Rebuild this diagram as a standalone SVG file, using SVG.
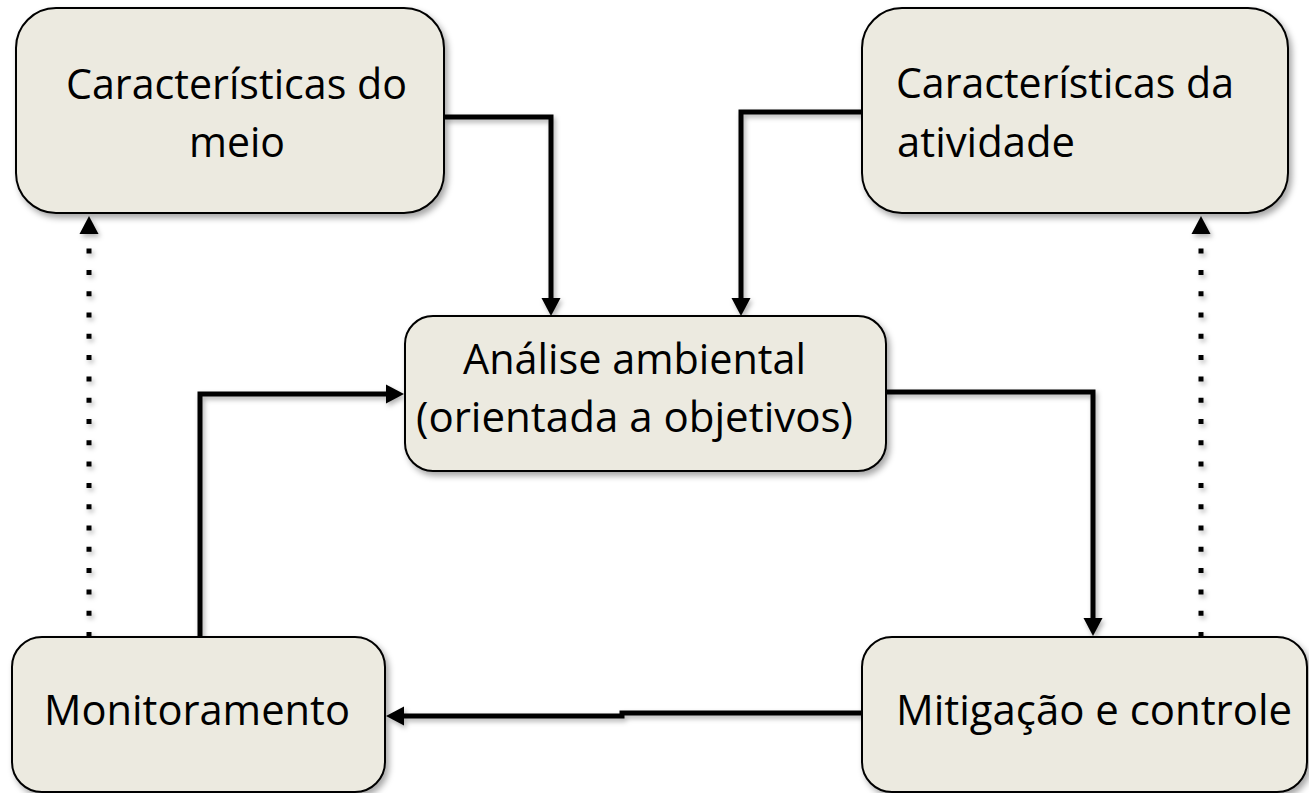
<svg xmlns="http://www.w3.org/2000/svg" width="1309" height="793" viewBox="0 0 1309 793">
  <defs>
    <filter id="sh" x="-10%" y="-10%" width="130%" height="130%">
      <feDropShadow dx="3" dy="4" stdDeviation="3" flood-color="#000" flood-opacity="0.35"/>
    </filter>
    <filter id="lsh" x="-20%" y="-20%" width="140%" height="140%">
      <feDropShadow dx="2" dy="3" stdDeviation="2.5" flood-color="#000" flood-opacity="0.3"/>
    </filter>
    <marker id="ah" markerUnits="userSpaceOnUse" markerWidth="22" markerHeight="22" viewBox="0 -11 20 22" refX="0" refY="0" orient="auto">
      <path d="M0,-9.5 L18,0 L0,9.5 Z" fill="#000"/>
    </marker>
  </defs>
  <style>
    .box { fill: #ECEAE0; stroke: #000; stroke-width: 2; filter: url(#sh); }
    .lbl { font-family: "Open Sans", "Liberation Sans", sans-serif; font-size: 42px; fill: #000; }
    .con { fill: none; stroke: #000; stroke-width: 5; stroke-linejoin: miter; marker-end: url(#ah); }
    .dot { fill: none; stroke: #000; stroke-width: 5; stroke-dasharray: 5 16.3; marker-end: url(#ah); }
  </style>
  <rect width="1309" height="793" fill="#fff"/>

  <g id="connectors" filter="url(#lsh)">
    <path class="con" d="M444,117 H551 V298"/>
    <path class="con" d="M862,112 H741 V298"/>
    <path class="con" d="M886,392 H1093 V618"/>
    <path class="con" d="M862,713 H622 V716 H404"/>
    <path class="con" d="M200,637 V394 H386"/>
    <path class="dot" d="M89,637 V234"/>
    <path class="dot" d="M1201,637 V234"/>
  </g>

  <g id="node-meio">
    <rect class="box" x="16" y="8" width="428" height="205" rx="40" ry="40"/>
    <text class="lbl" x="66" y="99" textLength="341" lengthAdjust="spacingAndGlyphs">Características do</text>
    <text class="lbl" x="189" y="157" textLength="96" lengthAdjust="spacingAndGlyphs">meio</text>
  </g>

  <g id="node-atividade">
    <rect class="box" x="862" y="8" width="426" height="205" rx="40" ry="40"/>
    <text class="lbl" x="896" y="98" textLength="338" lengthAdjust="spacingAndGlyphs">Características da</text>
    <text class="lbl" x="897" y="157" textLength="178" lengthAdjust="spacingAndGlyphs">atividade</text>
  </g>

  <g id="node-analise">
    <rect class="box" x="405" y="316" width="481" height="155" rx="28" ry="28"/>
    <text class="lbl" x="463" y="374" textLength="343" lengthAdjust="spacingAndGlyphs">Análise ambiental</text>
    <text class="lbl" x="416" y="432" textLength="437" lengthAdjust="spacingAndGlyphs">(orientada a objetivos)</text>
  </g>

  <g id="node-monitoramento">
    <rect class="box" x="12" y="637" width="373" height="155" rx="30" ry="30"/>
    <text class="lbl" x="44" y="725" textLength="306" lengthAdjust="spacingAndGlyphs">Monitoramento</text>
  </g>

  <g id="node-mitigacao">
    <rect class="box" x="862" y="637" width="445" height="155" rx="30" ry="30"/>
    <text class="lbl" x="896" y="725" textLength="396" lengthAdjust="spacingAndGlyphs">Mitigação e controle</text>
  </g>
</svg>
